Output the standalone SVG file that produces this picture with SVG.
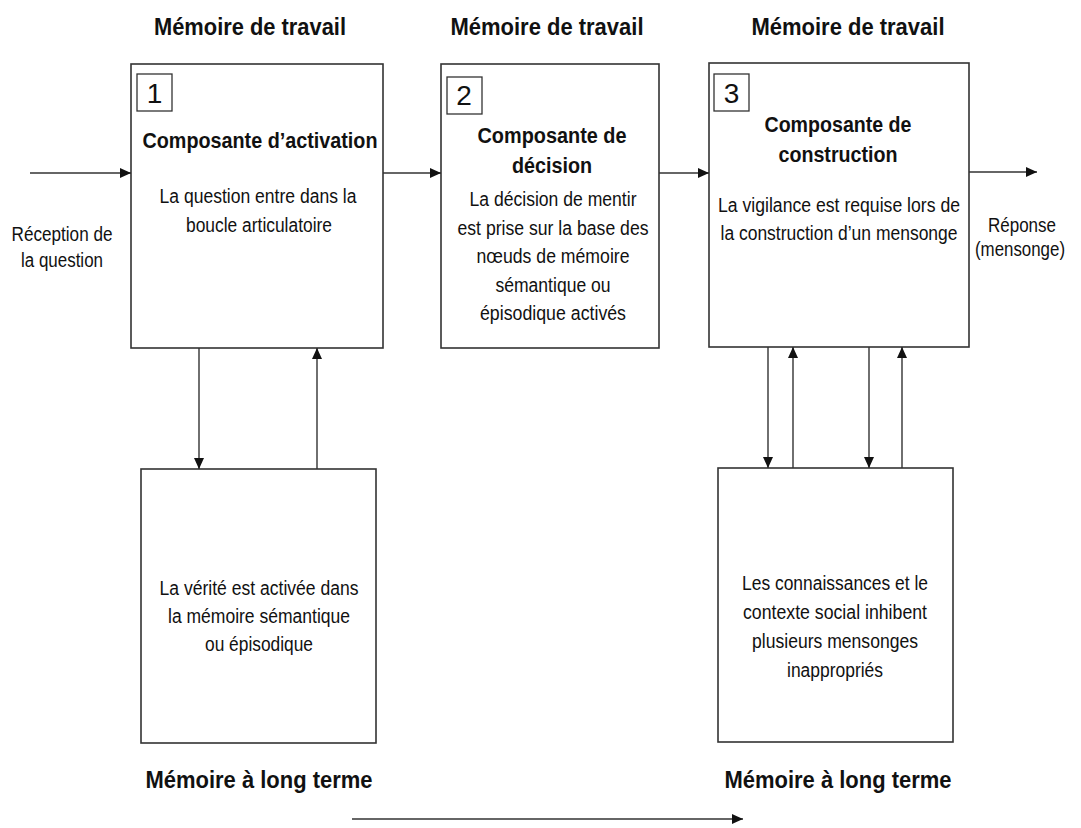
<svg xmlns="http://www.w3.org/2000/svg" width="1081" height="828" viewBox="0 0 1081 828">
<style>
text{font-family:"Liberation Sans",Arial,sans-serif;fill:#111;text-anchor:middle}
.h{font-size:23px;font-weight:bold}
.t{font-size:22px;font-weight:bold}
.b{font-size:20px}
.n{font-size:28px}
.box{fill:#fff;stroke:#333;stroke-width:1.6}
.nb{fill:#fff;stroke:#333;stroke-width:1.3}
.c{stroke:#333;stroke-width:1.4;fill:none}
</style>
<defs>
<marker id="ah" markerUnits="userSpaceOnUse" markerWidth="12" markerHeight="10" refX="11" refY="5" orient="auto">
<path d="M0,0 L11,5 L0,10 z" fill="#111"/>
</marker>
</defs>
<rect width="1081" height="828" fill="#fff"/>

<g id="headings">
<text class="h" x="250" y="35" textLength="192" lengthAdjust="spacingAndGlyphs">Mémoire de travail</text>
<text class="h" x="547" y="35" textLength="193" lengthAdjust="spacingAndGlyphs">Mémoire de travail</text>
<text class="h" x="848" y="35" textLength="193" lengthAdjust="spacingAndGlyphs">Mémoire de travail</text>
<text class="h" x="259" y="788" textLength="227" lengthAdjust="spacingAndGlyphs">Mémoire à long terme</text>
<text class="h" x="838" y="788" textLength="227" lengthAdjust="spacingAndGlyphs">Mémoire à long terme</text>
</g>

<g id="input-label">
<text class="b" x="62" y="241" textLength="101" lengthAdjust="spacingAndGlyphs">Réception de</text>
<text class="b" x="62" y="267" textLength="82" lengthAdjust="spacingAndGlyphs">la question</text>
</g>

<g id="output-label">
<text class="b" x="1022" y="232" textLength="68" lengthAdjust="spacingAndGlyphs">Réponse</text>
<text class="b" x="1020" y="256" font-size="19" textLength="90" lengthAdjust="spacingAndGlyphs">(mensonge)</text>
</g>

<g id="node-activation">
<rect class="box" x="131" y="64" width="252" height="284"/>
<rect class="nb" x="137" y="74" width="35" height="37"/>
<text class="n" x="154.5" y="103">1</text>
<text class="t" x="260" y="148" textLength="235" lengthAdjust="spacingAndGlyphs">Composante d’activation</text>
<text class="b" x="258" y="203" textLength="197" lengthAdjust="spacingAndGlyphs">La question entre dans la</text>
<text class="b" x="259" y="232" textLength="146" lengthAdjust="spacingAndGlyphs">boucle articulatoire</text>
</g>

<g id="node-decision">
<rect class="box" x="441" y="64" width="218" height="284"/>
<rect class="nb" x="447" y="77" width="35" height="37"/>
<text class="n" x="464" y="105">2</text>
<text class="t" x="552" y="143" textLength="149" lengthAdjust="spacingAndGlyphs">Composante de</text>
<text class="t" x="552" y="173" textLength="80" lengthAdjust="spacingAndGlyphs">décision</text>
<text class="b" x="553" y="206" textLength="167" lengthAdjust="spacingAndGlyphs">La décision de mentir</text>
<text class="b" x="553" y="235" textLength="191" lengthAdjust="spacingAndGlyphs">est prise sur la base des</text>
<text class="b" x="553" y="263" textLength="153" lengthAdjust="spacingAndGlyphs">nœuds de mémoire</text>
<text class="b" x="553" y="292" textLength="115" lengthAdjust="spacingAndGlyphs">sémantique ou</text>
<text class="b" x="553" y="320" textLength="146" lengthAdjust="spacingAndGlyphs">épisodique activés</text>
</g>

<g id="node-construction">
<rect class="box" x="709" y="63" width="260" height="284"/>
<rect class="nb" x="714" y="74" width="35" height="37"/>
<text class="n" x="731.5" y="103">3</text>
<text class="t" x="838" y="132" textLength="147" lengthAdjust="spacingAndGlyphs">Composante de</text>
<text class="t" x="838" y="162" textLength="119" lengthAdjust="spacingAndGlyphs">construction</text>
<text class="b" x="839" y="212" textLength="242" lengthAdjust="spacingAndGlyphs">La vigilance est requise lors de</text>
<text class="b" x="839" y="240" textLength="237" lengthAdjust="spacingAndGlyphs">la construction d’un mensonge</text>
</g>

<g id="node-ltm-truth">
<rect class="box" x="141" y="469" width="235" height="274"/>
<text class="b" x="259" y="595" textLength="199" lengthAdjust="spacingAndGlyphs">La vérité est activée dans</text>
<text class="b" x="259" y="623" textLength="182" lengthAdjust="spacingAndGlyphs">la mémoire sémantique</text>
<text class="b" x="259" y="651" textLength="108" lengthAdjust="spacingAndGlyphs">ou épisodique</text>
</g>

<g id="node-ltm-knowledge">
<rect class="box" x="718" y="468" width="235" height="274"/>
<text class="b" x="835" y="590" textLength="186" lengthAdjust="spacingAndGlyphs">Les connaissances et le</text>
<text class="b" x="835" y="619" textLength="184" lengthAdjust="spacingAndGlyphs">contexte social inhibent</text>
<text class="b" x="835" y="648" textLength="166" lengthAdjust="spacingAndGlyphs">plusieurs mensonges</text>
<text class="b" x="835" y="677" textLength="96" lengthAdjust="spacingAndGlyphs">inappropriés</text>
</g>

<g id="connectors">
<line class="c" x1="30" y1="173" x2="131" y2="173" marker-end="url(#ah)"/>
<line class="c" x1="383" y1="173" x2="441" y2="173" marker-end="url(#ah)"/>
<line class="c" x1="659" y1="173" x2="709" y2="173" marker-end="url(#ah)"/>
<line class="c" x1="969" y1="172" x2="1037" y2="172" marker-end="url(#ah)"/>
<line class="c" x1="199" y1="348" x2="199" y2="469" marker-end="url(#ah)"/>
<line class="c" x1="317" y1="469" x2="317" y2="348" marker-end="url(#ah)"/>
<line class="c" x1="768" y1="347" x2="768" y2="468" marker-end="url(#ah)"/>
<line class="c" x1="793" y1="468" x2="793" y2="347" marker-end="url(#ah)"/>
<line class="c" x1="869" y1="347" x2="869" y2="468" marker-end="url(#ah)"/>
<line class="c" x1="902" y1="468" x2="902" y2="347" marker-end="url(#ah)"/>
<line class="c" x1="352" y1="819" x2="743" y2="819" marker-end="url(#ah)"/>
</g>
</svg>
